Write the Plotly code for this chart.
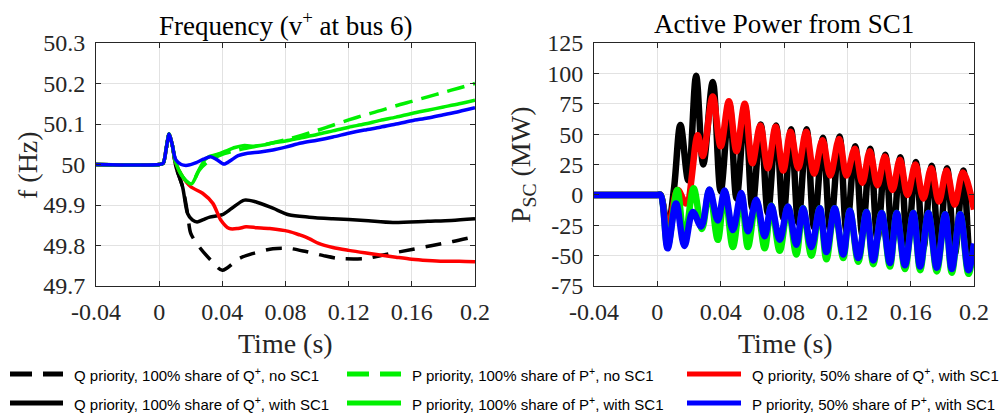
import plotly.graph_objects as go

W, H = 1003, 415

# ---------------- Frequency at bus 6 (Hz) ----------------
t_f_q100_nosc = [-0.04, 0.0, 0.0025, 0.0045, 0.0063, 0.0082, 0.0106, 0.0148, 0.018, 0.02, 0.0253,
                 0.0327, 0.04, 0.0507, 0.059, 0.072, 0.082, 0.093, 0.104, 0.114, 0.131, 0.146,
                 0.16, 0.173, 0.186, 0.2]
f_q100_nosc = [50.0, 50.0, 50.003, 50.04, 50.075, 50.05, 49.995, 49.945, 49.879, 49.83, 49.797,
               49.764, 49.739, 49.768, 49.78, 49.792, 49.793, 49.785, 49.775, 49.768, 49.768, 49.78,
               49.79, 49.8, 49.81, 49.822]

t_f_q100_sc = [-0.04, 0.0, 0.0025, 0.0045, 0.0063, 0.0082, 0.0106, 0.0148, 0.018, 0.021, 0.024,
               0.028, 0.032, 0.04, 0.046, 0.054, 0.061, 0.072, 0.082, 0.095, 0.11, 0.13, 0.148,
               0.17, 0.185, 0.2]
f_q100_sc = [50.0, 50.0, 50.003, 50.04, 50.075, 50.05, 49.995, 49.945, 49.879, 49.863, 49.858,
             49.864, 49.87, 49.876, 49.892, 49.912, 49.908, 49.892, 49.876, 49.87, 49.866, 49.862,
             49.857, 49.86, 49.862, 49.866]

t_f_q50_sc = [-0.04, 0.0, 0.0025, 0.0045, 0.0063, 0.0082, 0.0106, 0.0148, 0.02, 0.0275, 0.034,
              0.039, 0.0443, 0.05, 0.055, 0.062, 0.07, 0.082, 0.089, 0.095, 0.101, 0.11, 0.12,
              0.13, 0.141, 0.15, 0.16, 0.17, 0.18, 0.19, 0.2]
f_q50_sc = [50.0, 50.0, 50.003, 50.04, 50.075, 50.05, 50.003, 49.97, 49.945, 49.929, 49.904,
            49.863, 49.842, 49.842, 49.846, 49.844, 49.842, 49.835, 49.826, 49.817, 49.805, 49.795,
            49.788, 49.782, 49.776, 49.771, 49.766, 49.763, 49.761, 49.761, 49.76]

t_f_p100_nosc = [-0.04, 0.0, 0.0025, 0.0045, 0.0063, 0.0082, 0.0105, 0.014, 0.017, 0.0205, 0.025,
                 0.03, 0.035, 0.04, 0.045, 0.05, 0.06, 0.07, 0.08, 0.09, 0.1, 0.11, 0.12, 0.13,
                 0.14, 0.15, 0.16, 0.17, 0.18, 0.19, 0.2]
f_p100_nosc = [50.0, 50.0, 50.003, 50.04, 50.075, 50.05, 50.005, 49.975, 49.96, 49.952, 49.984,
               50.004, 50.016, 50.025, 50.031, 50.036, 50.044, 50.052, 50.061, 50.072, 50.084,
               50.097, 50.11, 50.122, 50.133, 50.145, 50.156, 50.167, 50.178, 50.189, 50.2]

t_f_p100_sc = [-0.04, 0.0, 0.0025, 0.0045, 0.0063, 0.0082, 0.0105, 0.014, 0.017, 0.0205, 0.025,
               0.029, 0.032, 0.036, 0.042, 0.048, 0.054, 0.06, 0.066, 0.072, 0.08, 0.09, 0.1,
               0.11, 0.12, 0.13, 0.14, 0.15, 0.16, 0.17, 0.18, 0.19, 0.2]
f_p100_sc = [50.0, 50.0, 50.003, 50.04, 50.075, 50.05, 50.005, 49.975, 49.96, 49.952, 49.985,
             50.012, 50.02, 50.024, 50.033, 50.042, 50.047, 50.045, 50.048, 50.053, 50.058,
             50.066, 50.074, 50.083, 50.092, 50.1, 50.109, 50.117, 50.126, 50.134, 50.142,
             50.15, 50.159]

t_f_p50_sc = [-0.04, 0.0, 0.0025, 0.0045, 0.0063, 0.0082, 0.0105, 0.014, 0.018, 0.023, 0.028,
              0.0325, 0.0365, 0.041, 0.046, 0.05, 0.056, 0.064, 0.072, 0.08, 0.09, 0.1, 0.11,
              0.12, 0.13, 0.14, 0.15, 0.16, 0.17, 0.18, 0.19, 0.2]
f_p50_sc = [50.0, 50.0, 50.003, 50.04, 50.075, 50.05, 50.012, 50.0, 49.998, 50.004, 50.013,
            50.019, 50.012, 50.001, 50.012, 50.022, 50.028, 50.031, 50.036, 50.043, 50.053,
            50.06, 50.068, 50.077, 50.085, 50.092, 50.1, 50.108, 50.115, 50.123, 50.131, 50.14]

# ---------------- Active power from SC1 (MW) ----------------
t_p_q100_sc = [-0.04, 0.0, 0.002, 0.0065, 0.0105, 0.0146, 0.0195, 0.0245, 0.029, 0.035, 0.04,
               0.0455, 0.05, 0.0555, 0.06, 0.0653, 0.0698, 0.075, 0.0795, 0.0845, 0.089, 0.0943,
               0.099, 0.1046, 0.1092, 0.1151, 0.1195, 0.125, 0.1295, 0.1345, 0.139, 0.144, 0.1485,
               0.1535, 0.158, 0.1633, 0.168, 0.1733, 0.1778, 0.183, 0.1878, 0.1933, 0.1978, 0.2]
p_q100_sc = [0.0, 0.0, 0.0, -28.0, 5.0, 57.6, 12.0, 98.0, 25.0, 93.0, 3.0,
             75.0, -3.0, 72.0, -11.0, 58.0, -15.0, 57.0, -19.0, 54.0, -23.0, 54.0,
             -27.0, 47.0, -29.0, 48.0, -30.0, 40.0, -33.0, 38.0, -36.0, 33.0, -39.0,
             31.0, -42.0, 27.0, -44.0, 24.0, -46.0, 22.0, -49.0, 20.0, -53.0, -45.0]

t_p_q50_sc = [-0.04, 0.0, 0.002, 0.0065, 0.0129, 0.0182, 0.0255, 0.0287, 0.035, 0.04, 0.0452,
              0.05, 0.0552, 0.06, 0.065, 0.0698, 0.0747, 0.0795, 0.0842, 0.089, 0.094, 0.099,
              0.1043, 0.1092, 0.1148, 0.1195, 0.1247, 0.1295, 0.1342, 0.139, 0.1437, 0.1485,
              0.1532, 0.158, 0.163, 0.168, 0.173, 0.1778, 0.1827, 0.1878, 0.193, 0.2]
p_q50_sc = [0.0, 0.0, 0.0, -29.0, 4.0, -7.0, 49.0, 32.0, 81.0, 40.0, 77.0,
            36.0, 75.0, 26.0, 57.0, 22.0, 56.0, 20.0, 52.0, 22.0, 52.0, 17.5,
            45.0, 16.0, 46.0, 16.0, 38.0, 10.0, 36.0, 8.0, 31.5, 4.0,
            29.0, 0.0, 25.0, -3.0, 22.0, -5.5, 20.0, -8.0, 18.5, -12.0]

t_p_p100_sc = [-0.04, 0.0, 0.002, 0.0065, 0.0126, 0.0171, 0.0229, 0.0282, 0.0329, 0.0382, 0.0425,
               0.0477, 0.053, 0.0572, 0.0625, 0.0678, 0.072, 0.0773, 0.0825, 0.0878, 0.092,
               0.0973, 0.1026, 0.1068, 0.112, 0.1174, 0.1216, 0.1269, 0.1321, 0.1364, 0.1417,
               0.1469, 0.1512, 0.1564, 0.1617, 0.166, 0.1712, 0.1765, 0.1818, 0.186, 0.1913,
               0.1965, 0.2]
p_p100_sc = [0.0, 0.0, 0.0, -42.0, 4.0, -38.0, 5.5, -28.0, 4.0, -37.0, 3.0,
             -43.0, 0.0, -43.0, -5.0, -44.0, -9.0, -46.0, -10.0, -49.0, -11.0,
             -50.0, -11.0, -53.0, -11.0, -52.0, -13.0, -55.0, -14.0, -57.0, -15.0,
             -59.0, -15.0, -61.0, -15.0, -62.0, -15.0, -63.0, -16.0, -64.0, -16.0,
             -65.0, -42.0]

t_p_p50_sc = [-0.04, 0.0, 0.002, 0.0065, 0.0118, 0.0171, 0.0224, 0.0277, 0.0329, 0.0382, 0.0425,
              0.0477, 0.053, 0.0572, 0.0625, 0.0678, 0.072, 0.0773, 0.0825, 0.0878, 0.092,
              0.0973, 0.1026, 0.1068, 0.112, 0.1174, 0.1216, 0.1269, 0.1321, 0.1364, 0.1417,
              0.1469, 0.1512, 0.1564, 0.1617, 0.166, 0.1712, 0.1765, 0.1818, 0.186, 0.1913,
              0.1965, 0.2]
p_p50_sc = [0.0, 0.0, 0.0, -44.0, -7.0, -42.0, -14.0, -26.0, 4.5, -21.0, 3.5,
            -29.0, 1.5, -30.0, -4.0, -34.0, -9.0, -37.0, -9.5, -41.0, -11.0,
            -43.0, -11.0, -47.0, -11.0, -49.0, -13.0, -52.0, -14.0, -54.0, -15.0,
            -56.0, -15.0, -58.0, -15.0, -59.0, -15.0, -60.0, -16.0, -61.0, -16.0,
            -62.0, -40.0]

# ---------------- Axis ticks ----------------
time_ticks = [-0.04, 0.0, 0.04, 0.08, 0.12, 0.16, 0.2]
time_labels = ["-0.04", "0", "0.04", "0.08", "0.12", "0.16", "0.2"]
freq_ticks = [49.7, 49.8, 49.9, 50.0, 50.1, 50.2, 50.3]
freq_labels = ["49.7", "49.8", "49.9", "50", "50.1", "50.2", "50.3"]
power_ticks = [-75, -50, -25, 0, 25, 50, 75, 100, 125]
power_labels = ["-75", "-50", "-25", "0", "25", "50", "75", "100", "125"]

legend_labels = [
    "Q priority, 100% share of Q<sup>+</sup>, no SC1",
    "P priority, 100% share of P<sup>+</sup>, no SC1",
    "Q priority, 50% share of Q<sup>+</sup>, with SC1",
    "Q priority, 100% share of Q<sup>+</sup>, with SC1",
    "P priority, 100% share of P<sup>+</sup>, with SC1",
    "P priority, 50% share of P<sup>+</sup>, with SC1",
]

BLACK, GREEN, RED, BLUE = "#000000", "#00f000", "#ff0000", "#0000ff"
SERIF = "Liberation Serif"
SANS = "Liberation Sans"
INK = "#262626"

fig = go.Figure()

# frequency panel
left_series = [
    (t_f_q100_nosc, f_q100_nosc, BLACK, "16px,11px"),
    (t_f_q100_sc, f_q100_sc, BLACK, "solid"),
    (t_f_q50_sc, f_q50_sc, RED, "solid"),
    (t_f_p100_nosc, f_p100_nosc, GREEN, "18px,9px"),
    (t_f_p100_sc, f_p100_sc, GREEN, "solid"),
    (t_f_p50_sc, f_p50_sc, BLUE, "solid"),
]
for tx, ty, col, dash in left_series:
    fig.add_trace(go.Scatter(x=tx, y=ty, mode="lines", xaxis="x", yaxis="y",
                             line=dict(color=col, width=3.5, dash=dash, shape="spline", smoothing=0.8),
                             showlegend=False, hoverinfo="skip"))

# power panel
right_series = [
    (t_p_q100_sc, p_q100_sc, BLACK),
    (t_p_q50_sc, p_q50_sc, RED),
    (t_p_p100_sc, p_p100_sc, GREEN),
    (t_p_p50_sc, p_p50_sc, BLUE),
]
for tx, ty, col in right_series:
    fig.add_trace(go.Scatter(x=tx, y=ty, mode="lines", xaxis="x2", yaxis="y2",
                             line=dict(color=col, width=6.5, shape="spline", smoothing=1.0),
                             showlegend=False, hoverinfo="skip"))

def px_x(v):
    return v / W

def px_y(v):
    return 1 - v / H

axis_common = dict(
    showgrid=True, gridcolor="#e2e2e2", gridwidth=1, zeroline=False,
    showline=True, linecolor=INK, linewidth=1, mirror="ticks",
    ticks="inside", ticklen=5, tickcolor=INK, tickwidth=1,
    tickfont=dict(family=SERIF, size=24, color=INK),
    automargin=False, fixedrange=True,
)
y_dom = [px_y(286), px_y(43)]

fig.update_layout(
    width=W, height=H, autosize=False,
    margin=dict(l=0, r=0, t=0, b=0),
    font=dict(family=SERIF, color=INK),
    paper_bgcolor="white", plot_bgcolor="white",
    xaxis=dict(domain=[px_x(96), px_x(475)], range=[-0.04, 0.2], anchor="y",
               tickvals=time_ticks, ticktext=time_labels, ticklabelstandoff=4, **axis_common),
    yaxis=dict(domain=y_dom, range=[49.7, 50.3], anchor="x",
               tickvals=freq_ticks, ticktext=freq_labels, ticklabelstandoff=5, **axis_common),
    xaxis2=dict(domain=[px_x(594), px_x(974)], range=[-0.04, 0.2], anchor="y2",
                tickvals=time_ticks, ticktext=time_labels, ticklabelstandoff=4, **axis_common),
    yaxis2=dict(domain=y_dom, range=[-75, 125], anchor="x2",
                tickvals=power_ticks, ticktext=power_labels, ticklabelstandoff=5, **axis_common),
    showlegend=False,
)

annotations = [
    dict(text="Frequency (v<sup>+</sup> at bus 6)", x=px_x(286), y=px_y(24),
         font=dict(family=SERIF, size=27, color="#000000")),
    dict(text="Active Power from SC1", x=px_x(784), y=px_y(24),
         font=dict(family=SERIF, size=27, color="#000000")),
    dict(text="Time (s)", x=px_x(285), y=px_y(343),
         font=dict(family=SERIF, size=28, color=INK)),
    dict(text="Time (s)", x=px_x(785), y=px_y(343),
         font=dict(family=SERIF, size=28, color=INK)),
    dict(text="f (Hz)", x=px_x(27), y=px_y(165), textangle=-90,
         font=dict(family=SERIF, size=28, color=INK)),
    dict(text="P<sub>SC</sub> (MW)", x=px_x(522), y=px_y(165), textangle=-90,
         font=dict(family=SERIF, size=28, color=INK)),
]
for a in annotations:
    a.update(xref="paper", yref="paper", showarrow=False, xanchor="center", yanchor="middle")

# legend: two rows of three entries
legend_style = [
    (BLACK, "22px,11px"), (GREEN, "22px,11px"), (RED, "solid"),
    (BLACK, "solid"), (GREEN, "solid"), (BLUE, "solid"),
]
col_line = [(10, 63), (347, 401), (687, 741)]
col_text = [72, 410, 750]
row_y = [374, 403]
shapes = []
for i, (lab, (col, dash)) in enumerate(zip(legend_labels, legend_style)):
    r, c = divmod(i, 3)
    x0, x1 = col_line[c]
    shapes.append(dict(type="line", xref="paper", yref="paper",
                       x0=px_x(x0), x1=px_x(x1), y0=px_y(row_y[r]), y1=px_y(row_y[r]),
                       line=dict(color=col, width=5, dash=dash)))
    annotations.append(dict(text=lab, x=px_x(col_text[c]), y=px_y(row_y[r]),
                            xref="paper", yref="paper", showarrow=False,
                            xanchor="left", yanchor="middle",
                            font=dict(family=SANS, size=15, color="#000000")))

fig.update_layout(annotations=annotations, shapes=shapes)

fig.write_html("out.html")
